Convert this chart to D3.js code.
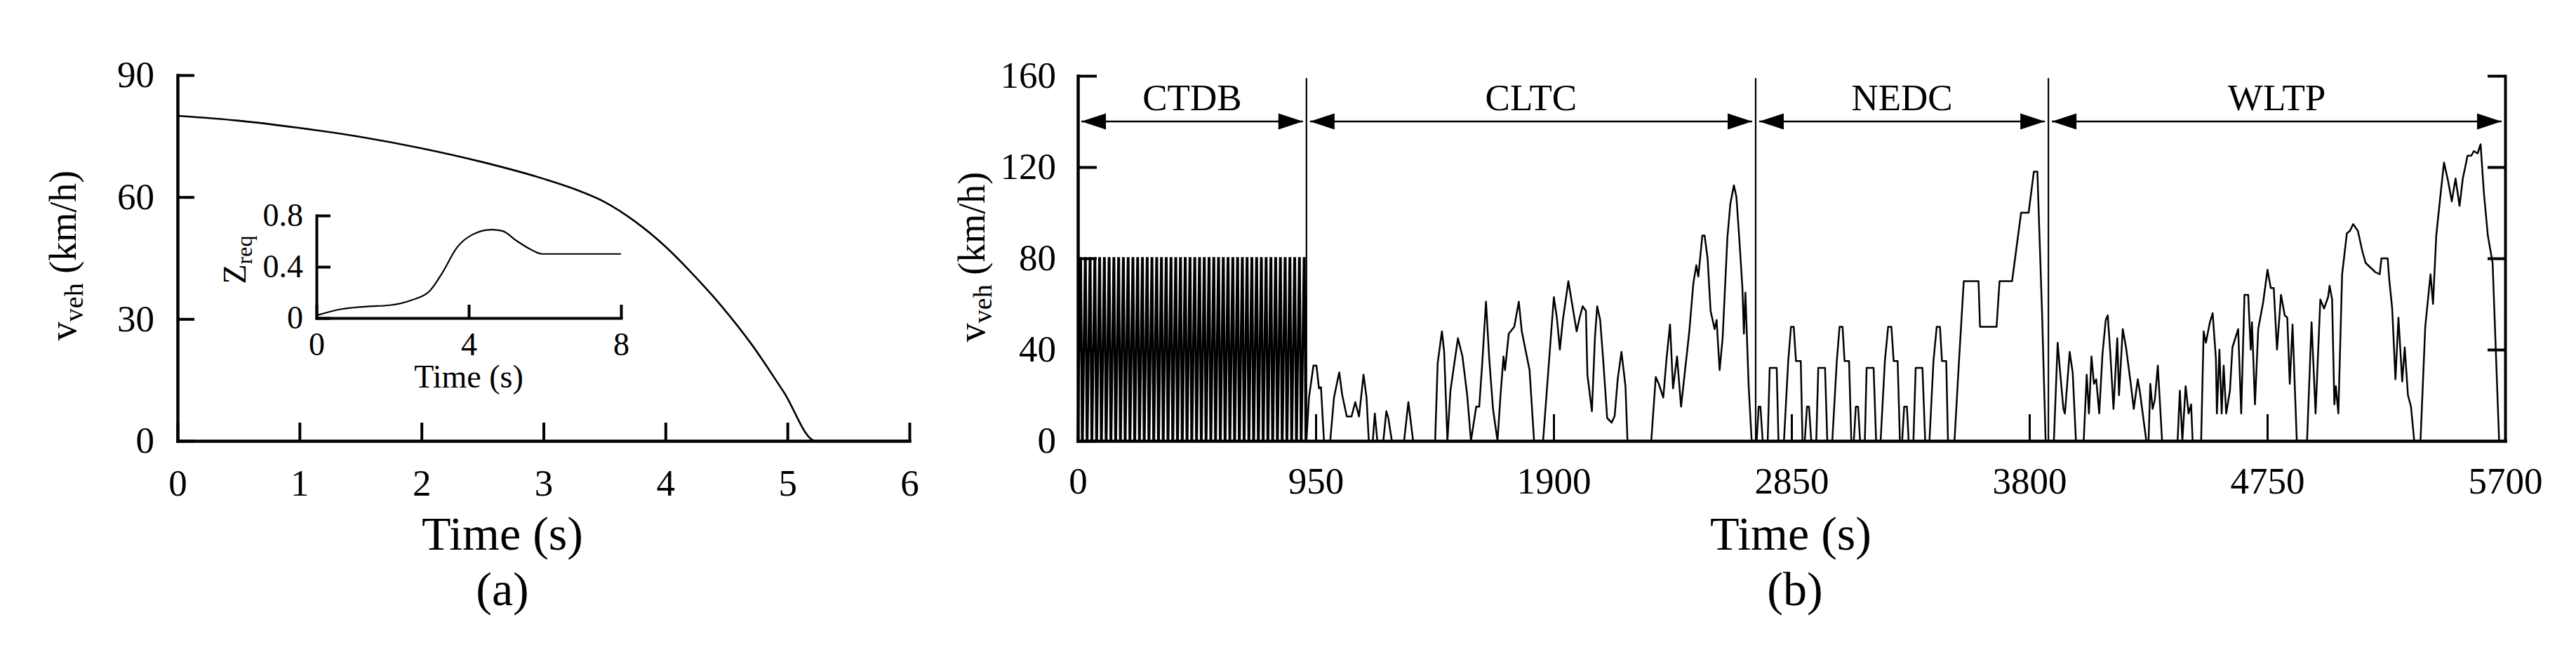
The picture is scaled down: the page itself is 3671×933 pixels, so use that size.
<!DOCTYPE html>
<html><head><meta charset="utf-8">
<script src="https://cdn.jsdelivr.net/npm/d3@7"></script>
<style>
body{margin:0;background:#fff}
text{font-family:"Liberation Serif","Times New Roman",serif;fill:#000}
</style></head>
<body><svg id="chart" width="3671" height="933"></svg>
<script>
// ---------- DATA ----------
// (a) braking from 80 km/h: [time s, speed km/h]
const brakeSpeed = [[0,80],[0.5,78.8],[1,77],[1.5,74.8],[2,72],[2.5,68.6],[3,64.5],[3.25,62],[3.5,58.8],[3.75,54],[4,47.8],[4.2,41.8],[4.45,33.5],[4.71,23.6],[4.97,12],[5.23,0],[6,0]];
// (a) inset: Z_req vs time
const zreq = [[0,0.02],[0.66,0.07],[1.33,0.09],[1.92,0.1],[2.5,0.14],[2.97,0.21],[3.3,0.35],[3.69,0.55],[4.09,0.65],[4.6,0.69],[4.88,0.68],[5.27,0.6],[5.6,0.54],[5.93,0.5],[8,0.5]];
// (b) CTDB: one repeated braking cycle [offset s, speed], repeated count times
const ctdbCycle = [[0,0],[10,80],[12,80],[17,0],[19,0]];
const ctdbPeriod = 19;
const ctdbCycleCount = 48;
// (b) CLTC
const cltc = [[912,0],[913,0],[923,19],[941,33],[953,33],[963,23],[971,23.5],[983,0],[1008,0],[1023,19],[1038,27],[1044,30],[1056,20],[1074,10.7],[1093,10.7],[1108,17],[1123,10.7],[1141,29],[1153,19],[1162,0],[1178,0],[1186,12],[1196,0],[1220,0],[1232,13],[1240,10],[1254,0],[1303,0],[1320,17],[1339,0],[1427,0],[1437,34],[1454,48],[1463,39],[1476,0],[1488,22],[1518,45],[1536,37],[1555,20],[1570,0],[1591,15],[1603,15],[1615,34],[1630,61],[1643,36],[1658,14],[1676,0],[1688,20],[1700,37],[1706,31],[1721,47],[1743,50],[1761,61],[1773,48],[1804,31],[1822,0],[1858,0],[1877,28],[1901,63],[1913,54],[1925,40],[1937,53],[1959,70],[1974,60],[1992,48],[2004,54],[2016,59],[2029,57],[2035,29],[2053,13],[2065,45],[2074,59],[2086,53],[2099,34],[2114,10],[2132,8],[2144,11],[2156,27],[2171,39],[2187,24],[2195,0],[2290,0],[2308,28],[2320,25],[2338,19],[2351,36],[2365,51],[2377,23],[2393,37],[2409,15],[2423,29],[2442,48],[2458,69],[2470,77],[2478,72],[2494,90],[2503,90],[2515,80],[2527,57],[2543,49],[2551,53],[2563,31],[2575,45],[2594,89],[2606,104],[2620,112],[2630,107],[2642,88],[2654,67],[2660,47],[2666,65],[2679,24],[2691,0],[2707,0]];
// (b) NEDC
const nedc = [[2711,0],[2719,15],[2726,15],[2735,0],[2755,0],[2763,32],[2791,32],[2798,0],[2820,0],[2837,35],[2848,50],[2859,50],[2868,35],[2887,35],[2894,0],
[2903,0],[2912,15],[2920,15],[2929,0],[2949,0],[2957,32],[2984,32],[2993,0],[3013,0],[3031,35],[3042,50],[3054,50],[3062,35],[3080,35],[3089,0],
[3099,0],[3107,15],[3116,15],[3124,0],[3143,0],[3150,32],[3178,32],[3188,0],[3206,0],[3223,35],[3236,50],[3249,50],[3258,35],[3274,35],[3283,0],
[3292,0],[3300,15],[3311,15],[3318,0],[3337,0],[3346,32],[3373,32],[3384,0],[3401,0],[3417,35],[3430,50],[3443,50],[3451,35],[3468,35],[3475,0],
[3501,0],[3519,35],[3538,70],[3597,70],[3603,50],[3669,50],[3681,70],[3731,70],[3767,100],[3797,100],[3818,118],[3832,118],[3851,55],[3865,0],[3876,0]];
// (b) WLTP
const wltp = [[3898,0],[3913,43],[3923,30],[3936,14],[3942,12],[3961,39],[3973,30],[3986,0],[4017,0],[4029,29],[4038,12],[4048,37],[4058,25],[4067,27],[4079,12],[4092,38],[4105,53],[4113,55],[4123,39],[4136,14],[4151,45],[4158,20],[4173,49],[4186,41],[4205,25],[4217,14],[4233,27],[4242,21],[4255,10],[4267,0],[4276,0],[4283,25],[4292,14],[4301,18],[4313,33],[4330,0],[4392,0],[4401,22],[4411,0],[4424,24],[4436,12],[4446,16],[4452,0],[4486,0],[4496,48],[4505,43],[4521,52],[4532,56],[4545,36],[4549,12],[4559,40],[4568,12],[4576,33],[4586,12],[4601,22],[4611,41],[4634,49],[4646,12],[4659,64],[4674,64],[4684,40],[4689,52],[4701,16],[4714,49],[4734,61],[4751,75],[4764,67],[4776,67],[4789,40],[4805,64],[4820,55],[4830,54],[4840,25],[4851,51],[4868,0],[4909,0],[4927,52],[4943,12],[4962,62],[4977,58],[4993,63],[4999,68],[5009,62],[5018,16],[5024,24],[5034,12],[5049,73],[5068,91],[5080,92],[5093,95],[5112,92],[5130,83],[5143,78],[5162,76],[5181,74],[5199,73],[5206,80],[5231,80],[5237,71],[5249,58],[5262,27],[5274,54],[5289,26],[5299,41],[5312,20],[5324,15],[5337,0],[5362,0],[5381,50],[5402,73],[5412,60],[5425,90],[5443,109],[5456,122],[5472,114],[5487,105],[5502,115],[5518,103],[5531,115],[5550,125],[5565,125],[5575,127],[5590,126],[5602,130],[5615,109],[5631,90],[5650,78],[5676,0],[5700,0]];
// (b) segments
const segmentNames = ["CTDB","CLTC","NEDC","WLTP"];
const segmentBounds = [0,913,2707,3876,5700];
const arrowLevel = 140, segLabelLevel = 145;
// ticks
const aXTicks = [0,1,2,3,4,5,6];
const aYTicks = [0,30,60,90];
const insetXTicks = [0,4,8];
const insetYTicks = [0,0.4,0.8];
const insetYLabels = ["0","0.4","0.8"];
const bXTicks = [0,950,1900,2850,3800,4750,5700];
const bYTicks = [0,40,80,120,160];

// ---------- DRAW ----------
const svg = d3.select("#chart");
const FONT = '"Liberation Serif","Times New Roman",serif';
const fmt = d3.format("d");

const xA = d3.scaleLinear().domain([0,6]).range([253,1296]);
const yA = d3.scaleLinear().domain([0,90]).range([628,107]);
const xI = d3.scaleLinear().domain([0,8]).range([451,885]);
const yI = d3.scaleLinear().domain([0,0.8]).range([453,307]);
const xB = d3.scaleLinear().domain([0,5700]).range([1536,3570]);
const yB = d3.scaleLinear().domain([0,160]).range([628,108]);

function styleAxis(g, fs, sw, tw){
  g.attr("font-family", FONT).attr("font-size", fs);
  g.select(".domain").attr("stroke","#000").attr("stroke-width", sw).attr("stroke-linecap","square");
  g.selectAll(".tick line").attr("stroke","#000").attr("stroke-width", tw);
  g.selectAll(".tick text").attr("fill","#000");
}
function yLabel(x, y, main, sub, rest, fs, sfs, sdy){
  const t = svg.append("text").attr("transform",`translate(${x},${y}) rotate(-90)`)
    .attr("text-anchor","middle").attr("font-size",fs);
  t.append("tspan").text(main);
  t.append("tspan").attr("dy",sdy).attr("font-size",sfs).text(sub);
  if (rest) t.append("tspan").attr("dy",-sdy).text(rest);
}

// panel (a) curve
svg.append("path").datum(brakeSpeed)
  .attr("d", d3.line().x(d=>xA(d[0])).y(d=>yA(d[1])).curve(d3.curveMonotoneX))
  .attr("fill","none").attr("stroke","#000").attr("stroke-width",2.6);

// panel (a) axes
svg.append("g").attr("transform",`translate(0,${yA(0)})`)
  .call(d3.axisBottom(xA).tickValues(aXTicks).tickFormat(fmt).tickSize(-26).tickSizeOuter(0).tickPadding(40))
  .call(g=>styleAxis(g,53,4.5,4));
svg.append("g").attr("transform",`translate(${xA(0)},0)`)
  .call(d3.axisLeft(yA).tickValues(aYTicks).tickFormat(fmt).tickSize(-24).tickSizeOuter(0).tickPadding(33))
  .call(g=>styleAxis(g,53,4.5,4));

// inset
svg.append("path").datum(zreq)
  .attr("d", d3.line().x(d=>xI(d[0])).y(d=>yI(d[1])).curve(d3.curveMonotoneX))
  .attr("fill","none").attr("stroke","#000").attr("stroke-width",2.2);
svg.append("g").attr("transform",`translate(0,${yI(0)})`)
  .call(d3.axisBottom(xI).tickValues(insetXTicks).tickFormat(fmt).tickSize(-19).tickSizeOuter(0).tickPadding(20))
  .call(g=>styleAxis(g,46,4,4));
svg.append("g").attr("transform",`translate(${xI(0)},0)`)
  .call(d3.axisLeft(yI).tickValues(insetYTicks).tickFormat((d,i)=>insetYLabels[i]).tickSize(-20).tickSizeOuter(0).tickPadding(19))
  .call(g=>styleAxis(g,46,4,4));
svg.append("text").attr("x",(xI(0)+xI(8))/2).attr("y",552).attr("text-anchor","middle")
  .attr("font-size",46).text("Time (s)");
yLabel(350, 370, "Z", "req", null, 46, 32, 9);

// panel (a) titles
yLabel(108, 364, "v", "veh", " (km/h)", 54, 38, 10);
svg.append("text").attr("x",716).attr("y",783).attr("text-anchor","middle").attr("font-size",68).text("Time (s)");
svg.append("text").attr("x",716).attr("y",862).attr("text-anchor","middle").attr("font-size",68).text("(a)");

// panel (b) data
const ctdb = [];
for (let k=0;k<ctdbCycleCount;k++) ctdbCycle.forEach(([dt,v])=>ctdb.push([k*ctdbPeriod+dt, v]));
const lineB = d3.line().x(d=>xB(d[0])).y(d=>yB(d[1]));
svg.append("path").datum(ctdb).attr("d", lineB)
  .attr("fill","none").attr("stroke","#000").attr("stroke-width",3.3).attr("stroke-linejoin","miter");
svg.append("path").datum(cltc.concat(nedc, wltp)).attr("d", lineB)
  .attr("fill","none").attr("stroke","#000").attr("stroke-width",2.5).attr("stroke-linejoin","round");

// separators
svg.selectAll("line.sep").data(segmentBounds.slice(1,4)).join("line").attr("class","sep")
  .attr("x1",d=>xB(d)).attr("x2",d=>xB(d)).attr("y1",yB(159)).attr("y2",yB(0))
  .attr("stroke","#000").attr("stroke-width",2.2);

// arrows + labels
segmentNames.forEach((name,i)=>{
  const a = xB(segmentBounds[i]) + 5, b = xB(segmentBounds[i+1]) - 5, y = yB(arrowLevel);
  svg.append("line").attr("x1",a).attr("x2",b).attr("y1",y).attr("y2",y).attr("stroke","#000").attr("stroke-width",2.5);
  svg.append("path").attr("d",`M${a},${y}L${a+35},${y-11.5}L${a+35},${y+11.5}Z`).attr("fill","#000");
  svg.append("path").attr("d",`M${b},${y}L${b-35},${y-11.5}L${b-35},${y+11.5}Z`).attr("fill","#000");
  svg.append("text").attr("x",(xB(segmentBounds[i])+xB(segmentBounds[i+1]))/2).attr("y",yB(segLabelLevel))
    .attr("text-anchor","middle").attr("font-size",53).text(name);
});

// panel (b) axes
svg.append("g").attr("transform",`translate(0,${yB(0)})`)
  .call(d3.axisBottom(xB).tickValues(bXTicks).tickFormat(fmt).tickSize(-38).tickSizeOuter(0).tickPadding(37))
  .call(g=>styleAxis(g,53,4.5,3));
svg.append("g").attr("transform",`translate(${xB(0)},0)`)
  .call(d3.axisLeft(yB).tickValues(bYTicks).tickFormat(fmt).tickSize(-27).tickSizeOuter(0).tickPadding(31))
  .call(g=>styleAxis(g,53,4.5,4));
svg.append("g").attr("transform",`translate(${xB(5700)},0)`)
  .call(d3.axisLeft(yB).tickValues(bYTicks.slice(1)).tickFormat("").tickSize(25).tickSizeOuter(0))
  .call(g=>styleAxis(g,53,4,4));

yLabel(1403, 366, "v", "veh", " (km/h)", 54, 38, 10);
svg.append("text").attr("x",2552).attr("y",783).attr("text-anchor","middle").attr("font-size",68).text("Time (s)");
svg.append("text").attr("x",2558).attr("y",862).attr("text-anchor","middle").attr("font-size",68).text("(b)");
</script>
</body></html>
